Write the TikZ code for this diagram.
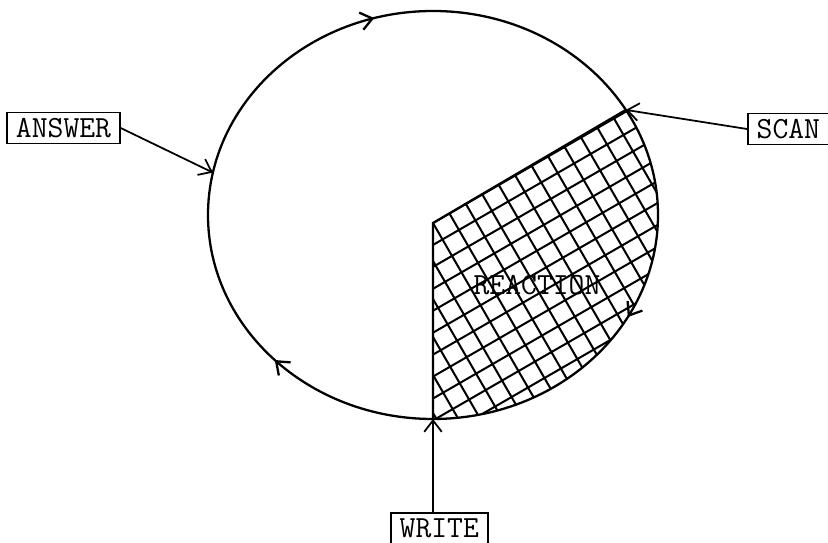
\documentclass[tikz,border=0pt]{standalone}
\usetikzlibrary{arrows.meta,decorations.markings}
\begin{document}
\begin{tikzpicture}[line width=1.3pt,
  >={Straight Barb[length=6.5pt,width=10pt]},
  tag/.style={draw, line width=1pt, font=\fontsize{17.5}{20}\selectfont\ttfamily,
    minimum height=0.62cm, inner xsep=5pt, inner ysep=2pt},
  feed/.style={->, line width=1pt},
  flow/.style={postaction={decorate}, decoration={markings,
    mark=at position 0.206 with {\arrow{>}},
    mark=at position 0.58 with {\arrow{>}},
    mark=at position 0.878 with {\arrow{>}}}}]
  \useasboundingbox (0,0) rectangle (16.56,10.86);
  % points on the loop
  \coordinate (mid) at (8.66,6.56);
  \coordinate (hub) at (8.66,6.40);
  \coordinate (left) at ([shift={(180:4.5 and 4.08)}]mid);
  \coordinate (scanpt) at ([shift={(31:4.5 and 4.08)}]mid);
  \coordinate (writept) at ([shift={(-90:4.5 and 4.08)}]mid);
  \coordinate (answerpt) at ([shift={(168:4.5 and 4.08)}]mid);
  % hatched sector
  \begin{scope}
    \clip (hub) -- (scanpt) arc[start angle=31, end angle=-90, x radius=4.5, y radius=4.08] -- cycle;
    \draw[line width=1.15pt, shift={(hub)}, rotate=30] (-9,-9) grid[step=0.38] (9,9);
  \end{scope}
  \draw (scanpt) -- (hub) -- (writept);
  \draw[flow] (left) arc[start angle=180, end angle=-180, x radius=4.5, y radius=4.08];
  \node[font=\fontsize{17.5}{20}\selectfont\ttfamily] (reaction) at (10.74,5.16) {REACTION};
  % boxes
  \node[tag] (answer) at (1.27,8.30) {ANSWER};
  \node[tag, anchor=west] (scan) at (14.94,8.28) {SCAN};
  \node[tag, anchor=north west] (write) at (7.8,0.62) {WRITE};
  \draw[feed] (answer.east) -- (answerpt);
  \draw[feed] (scan.west) -- (scanpt);
  \draw[feed] (write.north -| writept) -- (writept);
\end{tikzpicture}
\end{document}
